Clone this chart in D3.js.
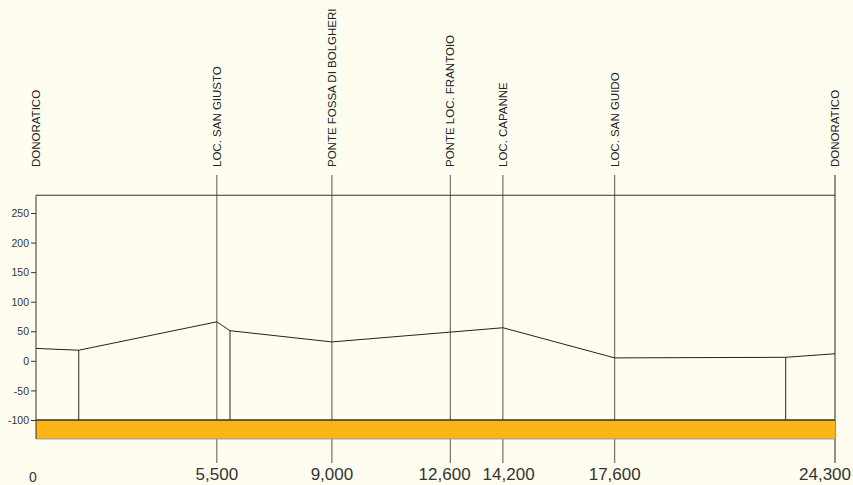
<!DOCTYPE html>
<html>
<head>
<meta charset="utf-8">
<script src="https://cdn.jsdelivr.net/npm/d3@7"></script>
<style>
    body { margin: 0; background: #fffdf0; }
    svg { display: block; }
    .station-label { font-family: "Liberation Sans", Arial, sans-serif; font-size: 11.5px; fill: #222; }
    .km-label { font-family: "Liberation Sans", Arial, sans-serif; font-size: 17px; fill: #333; }
    .yaxis text { font-family: "Liberation Sans", Arial, sans-serif; font-size: 10.5px; fill: #333; }
    .yaxis line { stroke: #333; }
</style>
</head>
<body>
<div id="graphContainer"></div>
<script>

// 
// altimetric profile of the route
// 

// stations along the route (distance in m)
var stationDist = [0, 5500, 9000, 12600, 14200, 17600, 24300];
var stationNames = [
    'DONORATICO',
    'LOC. SAN GIUSTO',
    'PONTE FOSSA DI BOLGHERI',
    'PONTE LOC. FRANTOIO',
    'LOC. CAPANNE',
    'LOC. SAN GUIDO',
    'DONORATICO'
];

// profile vertices (distance in m, elevation in m)
var profileDist = [0, 1300, 5500, 5900, 9000, 14200, 17600, 22800, 24300];
var profileElev = [21, 18, 66, 51, 32, 56, 5, 6, 12];

// section breaks drawn down to the base
var breakDist = [1300, 5900, 22800];

// elevation axis
var elevTicks = [-100, -50, 0, 50, 100, 150, 200, 250];
var elevTop = 280;
var elevBase = -100;
var elevFloor = -132;

function createProfileGraph() {

    var width = 853,
        height = 485;

    var svg = d3.select("#graphContainer").append("svg")
        .attr("width", width)
        .attr("height", height);

    svg.append("rect")
        .attr("width", width)
        .attr("height", height)
        .attr("fill", "#fffdf0");

    var x = d3.scaleLinear()
        .domain([0, 24300])
        .range([36, 835]);

    var y = d3.scaleLinear()
        .domain([-100, 250])
        .range([420, 213]);

    var lineTop = 175,
        lineBottom = 463;

    // station lines (no line at the start, the box border is there)
    svg.append("g").selectAll("line")
        .data(stationDist.slice(1))
        .enter().append("line")
        .attr("x1", function(d) { return x(d); })
        .attr("x2", function(d) { return x(d); })
        .attr("y1", lineTop)
        .attr("y2", lineBottom)
        .attr("stroke", function(d, i) { return i == stationDist.length - 2 ? "#222" : "#555"; })
        .attr("stroke-width", 1);

    // profile
    var pts = profileDist.map(function(d, i) { return [d, profileElev[i]]; });
    var line = d3.line()
        .x(function(d) { return x(d[0]); })
        .y(function(d) { return y(d[1]); });

    svg.append("path")
        .datum(pts)
        .attr("d", line)
        .attr("fill", "none")
        .attr("stroke", "#222")
        .attr("stroke-width", 1);

    var elevAt = d3.scaleLinear().domain(profileDist).range(profileElev);

    svg.append("g").selectAll("line")
        .data(breakDist)
        .enter().append("line")
        .attr("x1", function(d) { return x(d); })
        .attr("x2", function(d) { return x(d); })
        .attr("y1", function(d) { return y(elevAt(d)); })
        .attr("y2", y(elevBase))
        .attr("stroke", "#222")
        .attr("stroke-width", 1);

    // base band
    svg.append("rect")
        .attr("x", x(0))
        .attr("y", y(elevBase))
        .attr("width", x(24300) - x(0))
        .attr("height", y(elevFloor) - y(elevBase))
        .attr("fill", "#fbb615");

    svg.append("line")
        .attr("x1", x(0)).attr("x2", x(24300))
        .attr("y1", y(elevFloor)).attr("y2", y(elevFloor))
        .attr("stroke", "#999");

    svg.append("line")
        .attr("x1", x(0)).attr("x2", x(24300))
        .attr("y1", y(elevBase)).attr("y2", y(elevBase))
        .attr("stroke", "#333")
        .attr("stroke-width", 1.5);

    // box
    svg.append("path")
        .attr("d", "M" + x(0) + "," + y(elevFloor) + "V" + y(elevTop) + "H" + x(24300))
        .attr("fill", "none")
        .attr("stroke", "#333")
        .attr("stroke-width", 1);

    // elevation axis
    var yAxis = d3.axisLeft(y)
        .tickValues(elevTicks)
        .tickSize(5)
        .tickPadding(2)
        .tickFormat(function(d) { return String(d); });

    var ya = svg.append("g")
        .attr("class", "yaxis")
        .attr("transform", "translate(" + x(0) + ",0)")
        .call(yAxis);
    ya.select(".domain").remove();
    ya.selectAll("text").attr("dy", "0.35em");

    // station names
    svg.append("g").selectAll("text")
        .data(stationDist)
        .enter().append("text")
        .attr("class", "station-label")
        .attr("transform", function(d) { return "translate(" + x(d) + ",167) rotate(-90)"; })
        .attr("dy", "0.35em")
        .text(function(d, i) { return stationNames[i]; });

    // distance labels
    var km = svg.append("g").selectAll("text")
        .data(stationDist)
        .enter().append("text")
        .attr("class", "km-label")
        .attr("x", function(d) { return x(d); })
        .attr("y", function(d) { return d == 0 ? 482 : 480; })
        .attr("text-anchor", "middle")
        .style("font-size", function(d) { return d == 0 ? "14px" : null; })
        .text(function(d) { return d3.format(",")(d); });

    // keep the labels apart and inside the picture
    var nodes = km.nodes();
    nodes.forEach(function(n, i) {
        var b = n.getBBox();
        if (b.x + b.width > width - 2) {
            d3.select(n).attr("x", +d3.select(n).attr("x") - (b.x + b.width - (width - 2)));
        }
        if (i > 0) {
            var p = nodes[i - 1].getBBox();
            var overlap = p.x + p.width + 12 - b.x;
            if (overlap > 0) {
                d3.select(nodes[i - 1]).attr("x", +d3.select(nodes[i - 1]).attr("x") - overlap / 2);
                d3.select(n).attr("x", +d3.select(n).attr("x") + overlap / 2);
            }
        }
    });
    d3.select(nodes[0]).attr("x", x(0) - 3);

}

createProfileGraph();

</script>
</body>
</html>
